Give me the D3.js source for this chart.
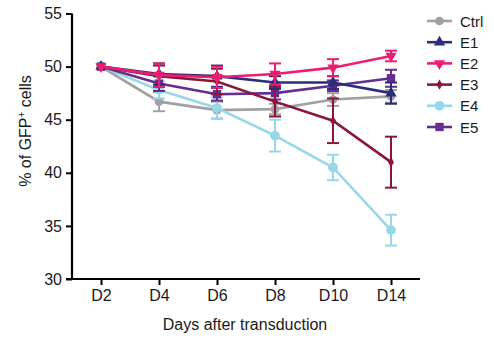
<!DOCTYPE html>
<html>
<head>
<meta charset="utf-8">
<script src="https://cdn.jsdelivr.net/npm/d3@7"></script>
<style>
  html, body { margin: 0; padding: 0; background: #fff; }
  svg { display: block; font-family: "Liberation Sans", Arial, sans-serif; }
</style>
</head>
<body>
<svg id="chart" width="494" height="339"></svg>
<script>
// Time points (days after transduction)
const days = ["D2", "D4", "D6", "D8", "D10", "D14"];
const yTicks = [30, 35, 40, 45, 50, 55];

// Mean % of GFP+ cells per group
const ctrl = [50, 46.7, 45.9, 46.0, 46.9, 47.2];
const e1   = [50, 49.3, 49.1, 48.5, 48.5, 47.5];
const e2   = [50, 49.2, 49.0, 49.3, 49.9, 51.0];
const e3   = [50, 49.1, 48.6, 46.7, 44.9, 41.0];
const e4   = [50, 47.8, 46.1, 43.5, 40.5, 34.6];
const e5   = [50, 48.4, 47.4, 47.5, 48.2, 48.9];

// Error (SEM) per group
const ctrlErr = [0, 0.9, 0.8, 0.5, 0.6, 0.6];
const e1Err   = [0, 1.0, 1.0, 0.6, 0.6, 1.0];
const e2Err   = [0, 1.1, 1.0, 1.0, 0.8, 0.5];
const e3Err   = [0, 1.0, 1.2, 1.4, 2.1, 2.4];
const e4Err   = [0, 0.8, 1.0, 1.5, 1.2, 1.45];
const e5Err   = [0, 0.7, 0.6, 0.6, 0.5, 0.8];

const groups = [
  { name: "Ctrl", values: ctrl, err: ctrlErr, color: "#a0a0a0", symbol: d3.symbolCircle, size: 60, rot: 0 },
  { name: "E1",   values: e1,   err: e1Err,   color: "#2b2e7c", symbol: d3.symbolTriangle, size: 55, rot: 0 },
  { name: "E2",   values: e2,   err: e2Err,   color: "#ec1e72", symbol: d3.symbolTriangle, size: 55, rot: 180 },
  { name: "E3",   values: e3,   err: e3Err,   color: "#8b1538", symbol: d3.symbolDiamond, size: 30, rot: 0 },
  { name: "E4",   values: e4,   err: e4Err,   color: "#96d8ea", symbol: d3.symbolCircle, size: 75, rot: 0 },
  { name: "E5",   values: e5,   err: e5Err,   color: "#652d8e", symbol: d3.symbolSquare, size: 70, rot: 0 }
];
// painting order (last on top)
const drawOrder = ["Ctrl", "E4", "E5", "E3", "E1", "E2"];

const svg = d3.select("#chart");
const x = d3.scalePoint().domain(days).range([72, 420]).padding(0.5);
const y = d3.scaleLinear().domain([30, 55]).range([279, 13.5]);

const textColor = "#1a1a1a";
const font = "Liberation Sans, Arial, sans-serif";

// Axes
const yAxis = svg.append("g")
  .attr("transform", "translate(72,0)")
  .call(d3.axisLeft(y).tickValues(yTicks).tickSize(6).tickPadding(4));
const xAxis = svg.append("g")
  .attr("transform", "translate(0,279)")
  .call(d3.axisBottom(x).tickSize(6).tickPadding(5));

[yAxis, xAxis].forEach(ax => {
  ax.select(".domain").attr("stroke", "#000").attr("stroke-width", 2.2);
  ax.selectAll(".tick line").attr("stroke", "#000").attr("stroke-width", 2);
  ax.selectAll(".tick text").attr("fill", textColor).attr("font-size", 16)
    .attr("font-family", font);
});
// square off the domain path ends (no outer ticks)
yAxis.select(".domain").attr("d", `M0,${y(30)}V${y(55)}`);
xAxis.select(".domain").attr("d", `M${72 - 6},0H420`);

// Axis titles
svg.append("text")
  .attr("x", 245).attr("y", 330)
  .attr("text-anchor", "middle")
  .attr("font-size", 16).attr("fill", textColor)
  .text("Days after transduction");

const yTitle = svg.append("text")
  .attr("transform", "translate(31,131) rotate(-90)")
  .attr("text-anchor", "middle")
  .attr("font-size", 16).attr("fill", textColor);
yTitle.append("tspan").text("% of GFP");
yTitle.append("tspan").attr("dy", -6).attr("font-size", 10).text("+");
yTitle.append("tspan").attr("dy", 6).text(" cells");

// Series
const line = d3.line().x((d, i) => x(days[i])).y(d => y(d));
const capW = 6;

drawOrder.forEach(nm => {
  const g = groups.find(s => s.name === nm);
  const layer = svg.append("g");
  // error bars
  g.values.forEach((v, i) => {
    const e = g.err[i];
    if (!e) return;
    const cx = x(days[i]);
    layer.append("line").attr("x1", cx).attr("x2", cx)
      .attr("y1", y(v - e)).attr("y2", y(v + e))
      .attr("stroke", g.color).attr("stroke-width", 2);
    [v - e, v + e].forEach(t => {
      layer.append("line").attr("x1", cx - capW).attr("x2", cx + capW)
        .attr("y1", y(t)).attr("y2", y(t))
        .attr("stroke", g.color).attr("stroke-width", 2);
    });
  });
  layer.append("path").datum(g.values)
    .attr("d", line).attr("fill", "none")
    .attr("stroke", g.color).attr("stroke-width", 2.6);
  layer.selectAll("path.pt").data(g.values).join("path")
    .attr("class", "pt")
    .attr("d", d3.symbol().type(g.symbol).size(g.size))
    .attr("transform", (d, i) => `translate(${x(days[i])},${y(d)}) rotate(${g.rot})`)
    .attr("fill", g.color);
});

// Legend
const legend = svg.append("g");
groups.forEach((g, i) => {
  const ly = 21 + i * 21.2;
  legend.append("line").attr("x1", 427).attr("x2", 452)
    .attr("y1", ly).attr("y2", ly)
    .attr("stroke", g.color).attr("stroke-width", 2.6);
  legend.append("path")
    .attr("d", d3.symbol().type(g.symbol).size(g.size))
    .attr("transform", `translate(439.5,${ly}) rotate(${g.rot})`)
    .attr("fill", g.color);
  legend.append("text").attr("x", 460).attr("y", ly + 5.5)
    .attr("font-size", 15).attr("fill", textColor).text(g.name);
});
</script>
</body>
</html>
